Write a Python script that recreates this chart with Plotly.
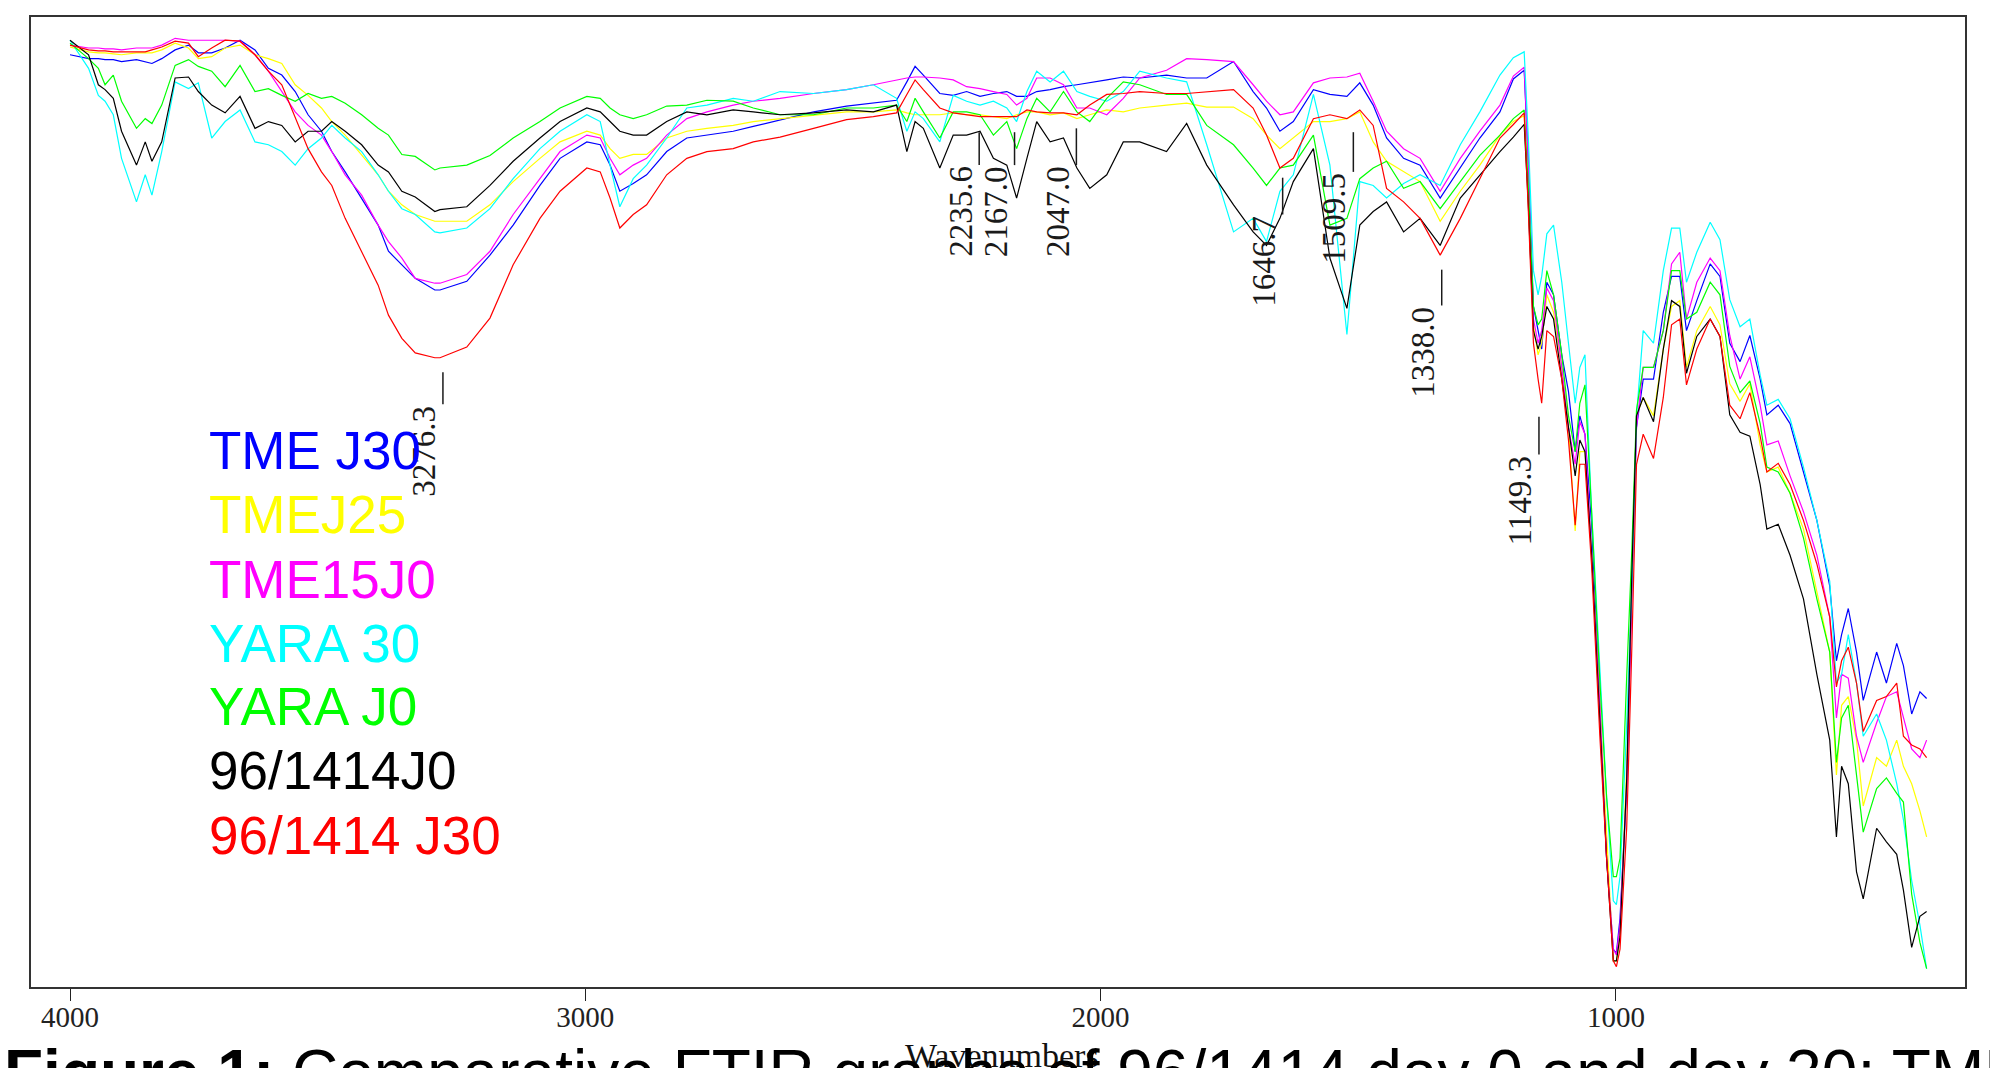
import plotly.graph_objects as go

# ---------------- data (wavenumber grid, cm-1) ----------------
wavenumbers = [
    4000, 3964, 3945, 3932, 3916, 3900, 3871, 3854, 3841, 3822, 3796, 3770, 3751, 3725, 3699,
    3670, 3641, 3615, 3589, 3563, 3538, 3512, 3492, 3466, 3434, 3402, 3382, 3356, 3330, 3292,
    3282, 3230, 3185, 3140, 3088, 3049, 2997, 2971, 2952, 2933, 2907, 2881, 2842, 2803, 2764,
    2713, 2674,
    2622, 2557, 2493, 2441, 2396, 2376, 2360, 2344, 2312, 2286, 2260, 2234, 2208, 2182, 2163,
    2143, 2124, 2098, 2072, 2046, 2021, 1988, 1956,
    1924, 1872, 1833, 1794, 1742, 1704, 1678, 1652, 1626, 1587, 1555, 1522, 1497, 1471, 1445,
    1412, 1380, 1341, 1302, 1264, 1225,
    1199, 1178, 1170, 1160, 1151, 1144, 1134, 1121, 1105, 1092, 1079, 1070, 1060, 1047, 1031,
    1018, 1005, 999, 992, 979, 969, 960, 947, 927, 908, 892, 876, 863, 843, 817, 798,
    779, 759, 740, 720, 707, 685, 662, 636, 610, 585, 572, 562, 549, 533, 520, 494, 475, 455,
    442, 426, 410, 397,
]

tme_j30 = [
    96.3, 95.9, 95.9, 95.8, 95.8, 95.6, 95.8, 95.6, 95.4, 95.9, 96.8, 97.3, 96.5, 96.5, 97.0,
    97.8, 96.8, 94.9, 94.2, 92.5, 90.1, 88.4, 86.3, 84.2, 81.5, 78.7, 76.0, 74.6, 73.2, 72.0,
    72.0, 72.9, 75.6, 78.7, 82.8, 85.6, 87.3, 87.0, 84.9, 82.2, 83.0, 83.9, 86.3, 87.7, 88.0,
    88.4, 88.9,
    89.6, 90.4, 91.0, 91.3, 91.6, 93.5, 95.1, 94.2, 92.3, 92.1, 92.5, 92.0, 92.3, 92.5, 92.0,
    92.0, 92.5, 92.7, 93.0, 93.2, 93.4, 93.7, 94.0,
    93.9, 94.2, 93.9, 93.9, 95.6, 92.5, 90.8, 88.4, 89.4, 92.7, 92.2, 92.0, 93.4, 91.1, 87.7,
    85.6, 84.9, 81.5, 84.6, 87.7, 90.4,
    93.8, 94.7, 85.3, 70.3, 67.8, 65.9, 72.8, 71.5, 65.3, 61.5, 55.3, 59.0, 57.1, 47.7, 29.0,
    13.3, 3.9, 3.5, 7.1, 20.8, 41.5, 57.8, 62.8, 62.8, 69.7, 73.4, 73.4, 67.8, 70.9, 74.7, 73.4,
    66.5, 64.6, 67.3, 62.8, 59.1, 60.1, 58.2, 53.2, 48.2, 41.4, 33.7, 36.4, 39.1, 34.6, 29.6,
    34.6, 31.4, 35.5, 33.2, 28.2, 30.5, 29.8,
]

tmej25 = [
    97.1, 96.6, 96.5, 96.5, 96.4, 96.3, 96.5, 96.5, 96.5, 96.8, 97.5, 97.0, 95.9, 96.1, 97.0,
    97.3, 96.3, 95.9, 95.4, 93.2, 92.1, 90.8, 89.4, 88.0, 86.0, 83.9, 82.2, 80.8, 79.8, 79.1,
    79.1, 79.1, 80.8, 83.2, 85.6, 87.3, 88.4, 88.0, 86.6, 85.6, 86.0, 86.0, 87.7, 88.4, 88.7,
    89.0, 89.4,
    89.7, 90.1, 90.4, 90.4, 90.6, 90.3, 90.1, 90.1, 90.1, 90.3, 90.1, 90.1, 89.9, 89.7, 90.1,
    90.4, 90.4, 90.1, 90.3, 89.7, 90.1, 90.6, 90.4,
    90.8, 91.1, 91.3, 90.9, 90.9, 89.7, 88.0, 86.6, 87.7, 89.4, 89.4, 89.7, 90.4, 87.3, 85.3,
    84.2, 83.2, 79.1, 82.2, 84.9, 88.0,
    89.4, 90.0, 81.6, 68.4, 65.3, 66.5, 71.5, 69.7, 64.0, 57.8, 47.1, 55.3, 55.3, 44.6, 29.0,
    16.5, 2.7, 2.7, 5.2, 22.7, 42.7, 59.0, 60.9, 59.0, 65.9, 70.3, 70.9, 64.0, 67.8, 70.3, 68.4,
    62.3, 60.5, 62.3, 56.0, 53.2, 53.7, 51.0, 47.3, 41.0, 34.6, 21.9, 29.1, 30.0, 25.5, 18.7,
    23.7, 22.8, 25.5, 22.8, 21.0, 18.2, 15.5,
]

tme15j0 = [
    97.3, 97.0, 97.0, 96.9, 96.9, 96.8, 97.0, 97.0, 97.0, 97.3, 98.0, 97.8, 97.8, 97.8, 97.8,
    97.7, 96.3, 94.6, 92.5, 90.4, 89.0, 88.0, 86.3, 83.9, 81.8, 78.7, 77.0, 75.3, 73.2, 72.7,
    72.7, 73.6, 76.0, 79.8, 83.5, 86.3, 88.0, 87.7, 85.6, 83.9, 84.9, 85.6, 88.0, 89.7, 90.4,
    91.1, 91.5,
    91.8, 92.3, 92.7, 93.2, 93.7, 93.9, 94.0, 94.0, 93.9, 93.7, 93.0, 92.8, 92.5, 92.2, 91.1,
    91.8, 93.9, 93.9, 93.2, 90.8, 90.8, 90.1, 91.8,
    93.9, 94.7, 95.9, 95.8, 95.6, 93.2, 91.5, 90.1, 90.4, 93.4, 93.9, 94.0, 94.4, 91.5, 88.4,
    86.6, 85.6, 82.2, 85.6, 88.4, 91.1,
    94.1, 95.0, 85.3, 69.0, 66.5, 67.8, 72.2, 70.9, 64.0, 57.8, 54.0, 58.4, 57.1, 44.6, 29.0,
    13.3, 3.9, 3.3, 6.4, 20.8, 41.5, 57.8, 64.0, 64.0, 67.8, 74.7, 75.9, 69.0, 72.8, 75.3, 74.0,
    67.3, 62.8, 65.1, 60.1, 56.0, 56.4, 52.8, 49.1, 44.6, 38.2, 27.8, 32.3, 31.9, 25.9, 23.2,
    27.3, 30.0, 30.5, 27.8, 24.6, 23.7, 25.5,
]

yara_30 = [
    97.8, 94.9, 92.1, 91.5, 90.1, 85.6, 81.1, 83.9, 81.8, 86.3, 93.5, 92.8, 93.4, 87.7, 89.4,
    90.6, 87.3, 87.0, 86.3, 84.9, 86.6, 87.7, 89.0, 87.7, 86.3, 83.9, 82.2, 80.4, 79.8, 78.0,
    77.9, 78.4, 80.4, 83.5, 86.6, 88.4, 90.1, 89.4, 84.9, 80.6, 83.5, 84.9, 87.7, 90.8, 91.1,
    91.8, 91.5,
    92.5, 92.3, 92.7, 93.2, 91.8, 88.4, 90.4, 89.7, 87.3, 92.1, 91.5, 91.1, 91.5, 90.8, 89.4,
    92.5, 94.6, 93.5, 94.6, 92.5, 92.0, 91.5, 92.5,
    94.6, 93.9, 93.5, 87.0, 78.0, 79.4, 77.0, 82.2, 83.9, 92.2, 84.9, 67.4, 83.2, 82.8, 81.5,
    83.0, 83.9, 82.8, 87.0, 90.4, 94.2,
    96.0, 96.6, 87.8, 74.0, 71.5, 73.4, 77.8, 78.7, 72.8, 66.5, 60.3, 64.0, 65.3, 49.0, 32.1,
    19.6, 8.9, 8.5, 11.4, 27.1, 41.5, 59.0, 67.8, 66.5, 74.0, 78.4, 78.4, 72.8, 75.9, 79.0, 77.2,
    71.0, 68.2, 69.0, 63.2, 60.1, 60.7, 58.7, 53.7, 48.2, 41.9, 31.4, 32.3, 36.4, 31.4, 25.9,
    28.2, 25.5, 21.0, 17.3, 11.0, 6.4, 1.9,
]

yara_j0 = [
    97.5, 95.9, 94.9, 93.2, 94.2, 91.5, 88.7, 89.7, 89.2, 91.1, 95.2, 95.8, 95.1, 94.6, 93.0,
    95.2, 92.5, 92.8, 92.1, 91.5, 92.3, 91.8, 92.0, 91.3, 90.1, 88.7, 88.0, 86.0, 85.8, 84.4,
    84.6, 84.9, 85.9, 87.7, 89.4, 90.8, 92.0, 91.8, 90.8, 90.1, 89.7, 90.1, 91.0, 91.1, 91.6,
    91.5, 90.8,
    90.1, 90.1, 90.8, 90.8, 91.1, 89.4, 91.8, 90.4, 87.7, 90.4, 90.4, 90.1, 88.0, 89.4, 86.6,
    89.7, 91.8, 90.4, 92.5, 90.4, 89.4, 91.8, 93.5,
    93.2, 92.2, 92.2, 89.0, 87.0, 84.6, 82.8, 84.6, 84.9, 88.0, 78.7, 79.4, 83.5, 84.6, 85.3,
    82.5, 83.2, 80.4, 83.2, 85.9, 88.0,
    89.7, 90.6, 82.8, 70.3, 68.4, 69.0, 74.0, 71.5, 65.3, 59.0, 55.3, 60.3, 62.2, 49.0, 31.5,
    19.6, 11.4, 11.4, 13.3, 32.1, 45.2, 59.6, 64.0, 64.0, 67.8, 74.0, 74.0, 69.0, 69.7, 72.8, 71.5,
    64.1, 61.4, 62.6, 58.2, 53.7, 53.2, 51.0, 46.4, 40.1, 34.6, 23.2, 27.8, 29.1, 21.9, 16.0,
    20.5, 21.6, 20.0, 19.1, 9.6, 4.6, 1.9,
]

s96_1414_j0 = [
    97.8, 96.3, 93.2, 92.7, 91.8, 88.4, 84.9, 87.3, 85.3, 87.3, 93.9, 94.0, 92.5, 91.1, 90.3,
    92.0, 88.7, 89.4, 89.0, 87.3, 88.4, 88.4, 89.4, 88.4, 87.0, 84.9, 84.2, 82.2, 81.6, 80.1,
    80.3, 80.6, 82.8, 85.3, 87.7, 89.4, 90.8, 90.4, 89.4, 88.4, 88.0, 88.0, 89.4, 90.4, 90.1,
    90.6, 90.4,
    90.1, 90.3, 90.6, 90.4, 91.1, 86.3, 89.4, 88.7, 84.6, 88.0, 88.0, 88.4, 85.6, 84.9, 81.5,
    85.6, 89.4, 87.3, 87.7, 84.6, 82.5, 83.9, 87.3,
    87.3, 86.3, 89.2, 84.9, 80.8, 78.0, 76.6, 79.4, 83.2, 86.6, 75.3, 70.1, 78.7, 80.1, 81.1,
    78.0, 79.4, 76.6, 81.5, 83.9, 86.3,
    87.8, 89.1, 80.9, 67.8, 65.9, 67.2, 70.3, 69.0, 62.8, 57.8, 52.8, 56.5, 55.3, 44.6, 27.7,
    13.3, 2.7, 2.7, 5.2, 21.5, 42.7, 59.0, 60.9, 58.4, 65.9, 70.9, 70.3, 63.4, 67.2, 69.0, 67.2,
    59.1, 57.3, 56.9, 51.9, 47.3, 47.8, 44.6, 40.1, 32.3, 25.5, 15.5, 22.8, 21.0, 11.9, 9.1,
    16.4, 15.0, 13.7, 10.0, 4.1, 7.3, 7.8,
]

s96_1414_j30 = [
    97.3, 96.8, 96.7, 96.7, 96.6, 96.6, 96.6, 96.6, 96.8, 97.1, 97.7, 97.5, 96.1, 97.0, 97.8,
    97.7, 96.3, 94.6, 93.2, 89.9, 86.6, 84.2, 82.8, 79.4, 76.0, 72.5, 69.4, 67.0, 65.5, 65.0,
    65.0, 66.1, 69.1, 74.6, 79.4, 82.2, 84.6, 84.2, 81.5, 78.4, 79.8, 80.8, 83.9, 85.6, 86.3,
    86.6, 87.3,
    87.8, 88.7, 89.6, 89.9, 90.3, 92.2, 93.7, 92.7, 90.8, 90.3, 90.1, 89.9, 89.9, 89.9, 89.9,
    90.6, 90.4, 90.3, 90.3, 90.1, 91.1, 92.2, 92.3,
    92.5, 92.3, 92.3, 92.5, 92.7, 90.8, 88.0, 84.6, 85.6, 89.7, 90.1, 89.7, 90.6, 89.0, 82.5,
    81.1, 79.4, 75.6, 79.4, 83.5, 87.7,
    89.1, 90.3, 80.3, 66.5, 62.8, 60.3, 67.8, 67.2, 62.8, 56.5, 47.7, 54.0, 54.0, 43.4, 25.8,
    13.3, 2.7, 2.1, 3.9, 16.5, 35.2, 54.0, 57.1, 54.6, 60.9, 68.4, 69.0, 62.2, 65.9, 69.0, 67.2,
    60.1, 58.7, 61.4, 56.9, 53.2, 54.1, 51.9, 48.2, 43.7, 38.2, 31.0, 33.7, 35.1, 31.4, 26.4,
    29.6, 30.0, 31.4, 25.9, 25.0, 24.6, 23.7,
]

series_names = ["TME J30", "TMEJ25", "TME15J0", "YARA 30", "YARA J0", "96/1414J0", "96/1414 J30"]
series_colors = ["#0000FF", "#FFFF00", "#FF00FF", "#00FFFF", "#00FF00", "#000000", "#FF0000"]
series_values = [tme_j30, tmej25, tme15j0, yara_30, yara_j0, s96_1414_j0, s96_1414_j30]

peak_labels = ["3276.3", "2235.6", "2167.0", "2047.0", "1646.7", "1509.5", "1338.0", "1149.3"]
peak_wn = [3276.3, 2235.6, 2167.0, 2047.0, 1646.7, 1509.5, 1338.0, 1149.3]
peak_line_top = [63.5, 88.3, 88.3, 88.7, 83.6, 88.3, 74.1, 58.9]
peak_text_top = [60.2, 84.9, 84.9, 84.9, 79.8, 84.2, 70.4, 55.0]

x_ticks = [4000, 3000, 2000, 1000]

# ---------------- figure ----------------
fig = go.Figure()
for name, color, vals in zip(series_names, series_colors, series_values):
    fig.add_trace(go.Scatter(x=wavenumbers, y=vals, mode="lines", name=name,
                             line=dict(color=color, width=1.2), showlegend=False))

annotations = []
shapes = []
serif = "Liberation Serif, Times New Roman, serif"
for lab, wn, ltop, ttop in zip(peak_labels, peak_wn, peak_line_top, peak_text_top):
    annotations.append(dict(x=wn, y=ttop, xref="x", yref="y", text=lab, showarrow=False,
                            textangle=-90, xanchor="right", yanchor="top", borderpad=0,
                            font=dict(family=serif, size=33, color="#1a1a1a")))
    shapes.append(dict(type="line", xref="x", yref="y", x0=wn, x1=wn, y0=ltop, y1=ttop,
                       line=dict(color="#1a1a1a", width=1.5)))

# coloured text legend
legend_y = [0.5526, 0.4866, 0.4206, 0.3546, 0.2887, 0.2227, 0.1557]
for name, color, ly in zip(series_names, series_colors, legend_y):
    annotations.append(dict(x=0.091, y=ly, xref="paper", yref="paper", text=name,
                            showarrow=False, xanchor="left", yanchor="middle",
                            font=dict(family="Liberation Sans, Arial, sans-serif", size=53,
                                      color=color)))

# axis title and (cut-off) caption
annotations.append(dict(x=0.502, y=-0.071, xref="paper", yref="paper", text="Wavenumbers",
                        showarrow=False, xanchor="center", yanchor="middle",
                        font=dict(family=serif, size=34, color="#111")))
annotations.append(dict(x=-0.015, y=-0.049, xref="paper", yref="paper",
                        text="<b>Figure 1:</b> Comparative FTIR graphs of 96/1414 day 0 and day 30; TME J30, TMEJ25",
                        showarrow=False, xanchor="left", yanchor="top",
                        font=dict(family="Liberation Sans, Arial, sans-serif", size=64, color="#000")))

fig.update_layout(
    width=1990, height=1068,
    margin=dict(l=31, r=25, t=17, b=81),
    paper_bgcolor="white", plot_bgcolor="white",
    annotations=annotations, shapes=shapes,
    showlegend=False,
)
fig.update_xaxes(range=[4075.7, 322.5], tickvals=x_ticks, ticktext=[str(t) for t in x_ticks],
                 ticks="outside", ticklen=12, tickwidth=1, tickcolor="#222",
                 ticklabelstandoff=-9,
                 showline=True, linecolor="#333", linewidth=2, mirror=True,
                 showgrid=False, zeroline=False,
                 tickfont=dict(family=serif, size=29, color="#222"))
fig.update_yaxes(range=[0, 100.2], showticklabels=False, ticks="",
                 showline=True, linecolor="#333", linewidth=2, mirror=True,
                 showgrid=False, zeroline=False)

fig.write_html("out.html", config={"displayModeBar": False},
               post_script="document.body.style.margin='0';document.body.style.overflow='hidden';")
